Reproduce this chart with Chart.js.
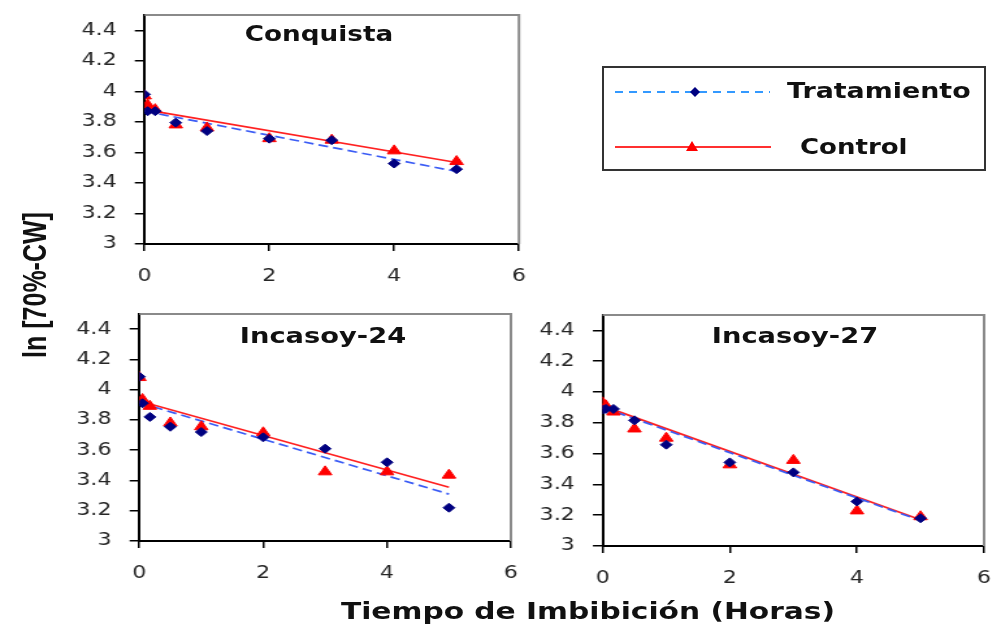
<!DOCTYPE html>
<html>
<head>
<meta charset="utf-8">
<script src="https://cdn.jsdelivr.net/npm/chart.js@4.4.1/dist/chart.umd.min.js"></script>
<style>
  body { margin: 0; background: #fff; }
  #wrap { position: relative; width: 994px; height: 626px; overflow: hidden; font-family: "DejaVu Sans", Verdana, sans-serif; }
  /* el original está estirado a lo ancho */
  canvas { position: absolute; transform: scaleX(1.3); transform-origin: 0 0; }
  .titulo { position: absolute; font-weight: bold; font-size: 21px; color: #111; white-space: nowrap; }
  #leyenda { position: absolute; left: 602px; top: 66px; width: 380px; height: 101px; border: 2px solid #333; }
  .ley-texto { position: absolute; font-weight: bold; font-size: 21.5px; color: #111; white-space: nowrap;
               transform-origin: left center; }
  #ejeY { position: absolute; left: 35px; top: 285px; font-family: "Liberation Sans", Arial, sans-serif;
          font-weight: bold; font-size: 25px; color: #111; white-space: nowrap;
          transform: translate(-50%, -50%) scaleX(1.3) rotate(-90deg); }
  #ejeX { position: absolute; left: 588px; top: 611px; font-weight: bold; font-size: 23px; color: #111;
          white-space: nowrap; transform: translate(-50%, -50%) scaleX(1.29); }
</style>
</head>
<body>
<div id="wrap">
  <canvas id="conquista" width="415" height="300" style="left:0;top:0"></canvas>
  <canvas id="incasoy24" width="400" height="300" style="left:0;top:300px"></canvas>
  <canvas id="incasoy27" width="364" height="300" style="left:520px;top:300px"></canvas>

  <div class="titulo" style="left:319px;top:34px;transform:translate(-50%,-50%) scaleX(1.25)">Conquista</div>
  <div class="titulo" style="left:323px;top:336px;transform:translate(-50%,-50%) scaleX(1.3)">Incasoy-24</div>
  <div class="titulo" style="left:795px;top:336px;transform:translate(-50%,-50%) scaleX(1.3)">Incasoy-27</div>

  <div id="leyenda"></div>
  <svg style="position:absolute;left:0;top:0" width="994" height="626">
    <line x1="615" y1="92" x2="770" y2="92" stroke="#3399ff" stroke-width="2" stroke-dasharray="8,6"/>
    <polygon points="695,87 700,92 695,97 690,92" fill="#000080"/>
    <line x1="615" y1="147" x2="771" y2="147" stroke="#ff3030" stroke-width="2"/>
    <polygon points="692,141 698,151 686,151" fill="#ff0000"/>
  </svg>
  <div class="ley-texto" style="left:787px;top:90px;transform:translate(0,-50%) scaleX(1.25)">Tratamiento</div>
  <div class="ley-texto" style="left:800px;top:146px;transform:translate(0,-50%) scaleX(1.21)">Control</div>

  <div id="ejeY">ln [70%-CW]</div>
  <div id="ejeX">Tiempo de Imbibición (Horas)</div>
</div>

<script>
// Tiempo de imbibición (horas) de cada medición
const horas = [0, 0.05, 0.17, 0.5, 1, 2, 3, 4, 5];
const marcasY = [3, 3.2, 3.4, 3.6, 3.8, 4, 4.2, 4.4];

// Conquista
const conquistaTrat = [3.98, 3.87, 3.87, 3.795, 3.74, 3.69, 3.68, 3.527, 3.49];
const conquistaCtrl = [3.97, 3.91, 3.88, 3.78, 3.76, 3.69, 3.68, 3.61, 3.54];

// Incasoy-24
const incasoy24Trat = [4.086, 3.91, 3.82, 3.755, 3.72, 3.685, 3.61, 3.52, 3.22];
const incasoy24Ctrl = [4.08, 3.935, 3.89, 3.78, 3.755, 3.715, 3.457, 3.457, 3.435];

// Incasoy-27
const incasoy27Trat = [3.886, 3.89, 3.89, 3.816, 3.658, 3.543, 3.478, 3.289, 3.18];
const incasoy27Ctrl = [3.93, 3.91, 3.87, 3.76, 3.70, 3.527, 3.556, 3.228, 3.19];

// Rectas de ajuste (valor en x = 0 y x = 5)
const ajusteX = [0, 5];
const conquistaTratAjuste = [3.87, 3.475];
const conquistaCtrlAjuste = [3.88, 3.534];
const incasoy24TratAjuste = [3.914, 3.31];
const incasoy24CtrlAjuste = [3.925, 3.355];
const incasoy27TratAjuste = [3.90, 3.165];
const incasoy27CtrlAjuste = [3.91, 3.17];

const fuenteTicks = { family: 'DejaVu Sans', size: 17 };
const colorTicks = '#262626';

// Marco gris arriba y a la derecha del área de trazado
const marco = {
  id: 'marco',
  beforeDatasetsDraw(chart) {
    const { ctx, chartArea: a } = chart;
    ctx.save();
    ctx.strokeStyle = '#8a8a8a';
    ctx.lineWidth = 2;
    ctx.beginPath();
    ctx.moveTo(a.left, a.top);
    ctx.lineTo(a.right, a.top);
    ctx.lineTo(a.right, a.bottom);
    ctx.stroke();
    ctx.restore();
  }
};

function puntos(xs, ys) {
  return xs.map((x, i) => ({ x: x, y: ys[i] }));
}

// sin relleno extra de las etiquetas: el área de trazado queda donde se pide
function sinRelleno(s) {
  s.paddingTop = 0;
  s.paddingBottom = 0;
  s.paddingLeft = 0;
  s.paddingRight = 0;
}

function crearPanel(id, trat, ctrl, tratAjuste, ctrlAjuste, caja) {
  const canvas = document.getElementById(id);
  return new Chart(canvas, {
    type: 'scatter',
    data: {
      datasets: [
        {
          label: 'Tratamiento',
          data: puntos(horas, trat),
          pointStyle: 'rectRot',
          pointRadius: 4.5,
          backgroundColor: '#000080',
          borderColor: '#000080',
          borderWidth: 1
        },
        {
          label: 'Control',
          data: puntos(horas, ctrl),
          pointStyle: 'triangle',
          pointRadius: 6,
          backgroundColor: '#ff0000',
          borderColor: '#ff0000',
          borderWidth: 1
        },
        {
          label: 'Tratamiento ajuste',
          type: 'line',
          data: puntos(ajusteX, tratAjuste),
          borderColor: '#3b5cf5',
          borderWidth: 1.7,
          borderDash: [7.5, 4],
          pointRadius: 0,
          fill: false
        },
        {
          label: 'Control ajuste',
          type: 'line',
          data: puntos(ajusteX, ctrlAjuste),
          borderColor: '#ff2020',
          borderWidth: 1.7,
          pointRadius: 0,
          fill: false
        }
      ]
    },
    options: {
      responsive: false,
      animation: false,
      events: [],
      layout: { padding: { top: caja.top, right: caja.right, left: 0, bottom: 0 } },
      plugins: {
        legend: { display: false },
        tooltip: { enabled: false }
      },
      scales: {
        x: {
          type: 'linear',
          min: 0,
          max: 6,
          ticks: { stepSize: 2, color: colorTicks, font: fuenteTicks, padding: 15 },
          grid: { drawOnChartArea: false, color: '#000', lineWidth: 1.5, tickLength: 7 },
          border: { color: '#000', width: 2 },
          afterFit: s => { s.height = caja.alto; sinRelleno(s); }
        },
        y: {
          type: 'linear',
          min: 3,
          max: 4.5,
          afterBuildTicks: s => { s.ticks = marcasY.map(v => ({ value: v })); },
          ticks: { color: colorTicks, font: fuenteTicks, padding: 14, callback: v => String(v) },
          grid: { drawOnChartArea: false, color: '#000', lineWidth: 1.5, tickLength: 7.5 },
          border: { color: '#000', width: 2 },
          afterFit: s => { s.width = caja.ancho; sinRelleno(s); }
        }
      }
    },
    plugins: [marco]
  });
}

// medidas en píxeles del lienzo (antes del estirado horizontal x1.3)
crearPanel('conquista', conquistaTrat, conquistaCtrl, conquistaTratAjuste, conquistaCtrlAjuste,
  { top: 15, right: 15.8, ancho: 111.2, alto: 56 });
crearPanel('incasoy24', incasoy24Trat, incasoy24Ctrl, incasoy24TratAjuste, incasoy24CtrlAjuste,
  { top: 14, right: 6.2, ancho: 107.2, alto: 59 });
crearPanel('incasoy27', incasoy27Trat, incasoy27Ctrl, incasoy27TratAjuste, incasoy27CtrlAjuste,
  { top: 15, right: 5, ancho: 63.6, alto: 54 });
</script>
</body>
</html>
